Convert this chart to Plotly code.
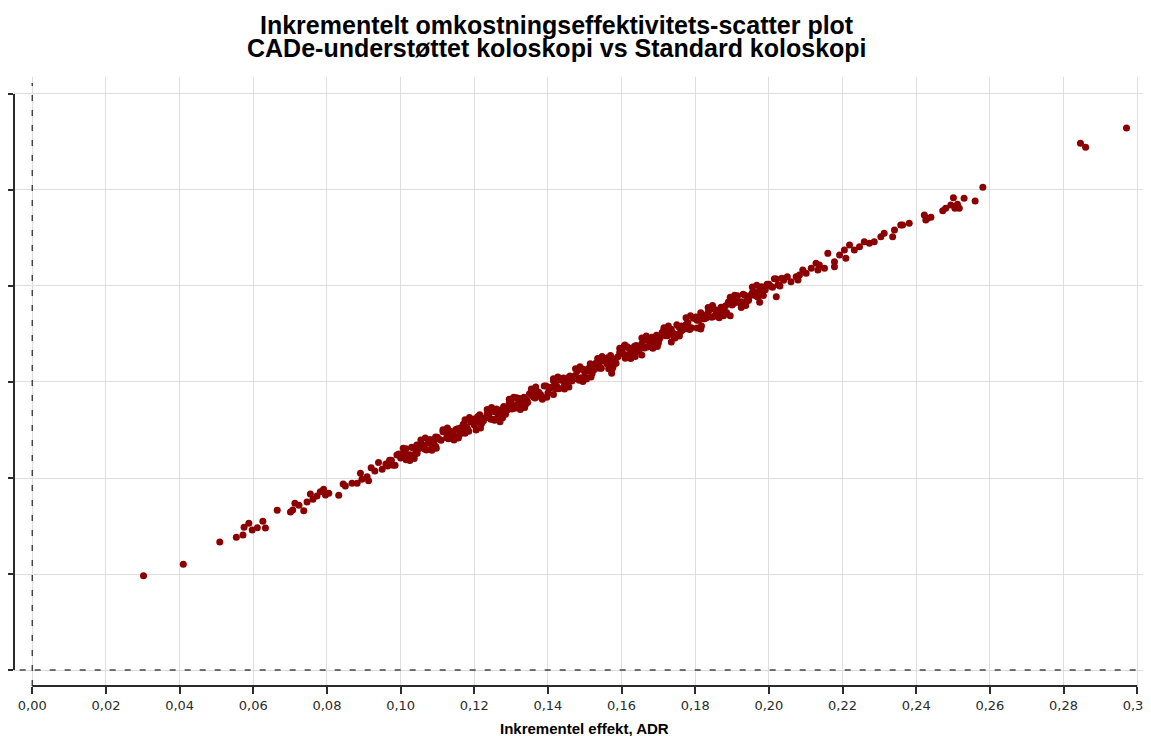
import plotly.graph_objects as go

# ---- Data (incremental effect, incremental cost in tick units) ----
effect_low = [0.0302, 0.0410, 0.0509, 0.0554, 0.0572, 0.0575, 0.0588, 0.0597, 0.0611, 0.0626,
              0.0633, 0.0665, 0.0701, 0.0707, 0.0713, 0.0724, 0.0737, 0.0746, 0.0755, 0.0762,
              0.0773, 0.0782, 0.0791, 0.0796, 0.0805, 0.0832, 0.0844, 0.0850, 0.0868, 0.0882,
              0.0891, 0.0895, 0.0909, 0.0913]
cost_low = [0.982, 1.101, 1.333, 1.382, 1.406, 1.486, 1.528, 1.458, 1.482, 1.549,
            1.479, 1.664, 1.646, 1.667, 1.736, 1.716, 1.659, 1.750, 1.833, 1.778,
            1.813, 1.857, 1.882, 1.823, 1.841, 1.820, 1.938, 1.917, 1.945, 1.945,
            2.049, 1.986, 2.014, 1.972]

effect_band_a = [0.092, 0.093, 0.094, 0.095, 0.096, 0.097, 0.098, 0.099, 0.100, 0.101,
                 0.102, 0.103, 0.104, 0.105, 0.106, 0.107, 0.108, 0.109, 0.110, 0.111,
                 0.112, 0.113, 0.114, 0.115, 0.116, 0.117, 0.118, 0.119, 0.120, 0.121,
                 0.122, 0.123, 0.124, 0.125, 0.126, 0.127, 0.128, 0.129, 0.130, 0.131,
                 0.132, 0.133, 0.134, 0.135, 0.136, 0.137, 0.138, 0.139, 0.140, 0.141,
                 0.142, 0.143, 0.144, 0.145, 0.146, 0.147, 0.148, 0.149, 0.150, 0.151,
                 0.152, 0.153, 0.154, 0.155, 0.156, 0.157, 0.158, 0.159, 0.160, 0.161,
                 0.162, 0.163, 0.164, 0.165, 0.166, 0.167, 0.168, 0.169, 0.170, 0.171,
                 0.172, 0.173, 0.174, 0.175, 0.176, 0.177, 0.178, 0.179, 0.180, 0.181,
                 0.182, 0.183, 0.184, 0.185, 0.186, 0.187, 0.188, 0.189, 0.190, 0.191,
                 0.192, 0.193, 0.194, 0.195, 0.196, 0.197, 0.198, 0.199, 0.200, 0.201,
                 0.202, 0.203, 0.204, 0.205, 0.206]
cost_band_a = [2.106, 2.074, 2.162, 2.090, 2.147, 2.185, 2.133, 2.240, 2.208, 2.266,
               2.233, 2.321, 2.249, 2.307, 2.344, 2.292, 2.400, 2.367, 2.425, 2.393,
               2.480, 2.408, 2.466, 2.504, 2.451, 2.559, 2.527, 2.584, 2.552, 2.640,
               2.567, 2.625, 2.663, 2.611, 2.718, 2.686, 2.744, 2.711, 2.799, 2.727,
               2.784, 2.822, 2.770, 2.878, 2.845, 2.903, 2.871, 2.958, 2.886, 2.944,
               2.981, 2.929, 3.037, 3.005, 3.062, 3.030, 3.118, 3.045, 3.103, 3.141,
               3.088, 3.196, 3.164, 3.222, 3.189, 3.277, 3.205, 3.262, 3.300, 3.248,
               3.355, 3.323, 3.381, 3.349, 3.436, 3.364, 3.422, 3.459, 3.407, 3.515,
               3.482, 3.540, 3.508, 3.596, 3.523, 3.581, 3.619, 3.566, 3.674, 3.642,
               3.699, 3.667, 3.755, 3.683, 3.740, 3.778, 3.726, 3.833, 3.801, 3.859,
               3.826, 3.914, 3.842, 3.900, 3.937, 3.885, 3.993, 3.960, 4.018, 3.986,
               4.073, 4.001, 4.059, 4.097, 4.044]

effect_band_b = [0.0965, 0.0975, 0.0985, 0.0995, 0.1005, 0.1015, 0.1025, 0.1035, 0.1045, 0.1055,
                 0.1065, 0.1075, 0.1085, 0.1095, 0.1105, 0.1115, 0.1125, 0.1135, 0.1145, 0.1155,
                 0.1165, 0.1175, 0.1185, 0.1195, 0.1205, 0.1215, 0.1225, 0.1235, 0.1245, 0.1255,
                 0.1265, 0.1275, 0.1285, 0.1295, 0.1305, 0.1315, 0.1325, 0.1335, 0.1345, 0.1355,
                 0.1365, 0.1375, 0.1385, 0.1395, 0.1405, 0.1415, 0.1425, 0.1435, 0.1445, 0.1455,
                 0.1465, 0.1475, 0.1485, 0.1495, 0.1505, 0.1515, 0.1525, 0.1535, 0.1545, 0.1555,
                 0.1565, 0.1575, 0.1585, 0.1595, 0.1605, 0.1615, 0.1625, 0.1635, 0.1645, 0.1655,
                 0.1665, 0.1675, 0.1685, 0.1695, 0.1705, 0.1715, 0.1725, 0.1735, 0.1745, 0.1755,
                 0.1765, 0.1775, 0.1785, 0.1795, 0.1805, 0.1815, 0.1825, 0.1835, 0.1845, 0.1855,
                 0.1865, 0.1875, 0.1885, 0.1895, 0.1905, 0.1915, 0.1925, 0.1935, 0.1945, 0.1955,
                 0.1965, 0.1975, 0.1985, 0.1995, 0.2005, 0.2015, 0.2025, 0.2035]
cost_band_b = [2.126, 2.184, 2.132, 2.249, 2.227, 2.305, 2.242, 2.310, 2.258, 2.336,
               2.303, 2.361, 2.309, 2.426, 2.404, 2.482, 2.419, 2.487, 2.435, 2.513,
               2.480, 2.538, 2.486, 2.603, 2.581, 2.659, 2.596, 2.664, 2.612, 2.690,
               2.657, 2.715, 2.663, 2.780, 2.758, 2.836, 2.773, 2.841, 2.789, 2.867,
               2.834, 2.892, 2.840, 2.957, 2.935, 3.013, 2.950, 3.018, 2.966, 3.044,
               3.011, 3.069, 3.017, 3.134, 3.112, 3.190, 3.127, 3.195, 3.143, 3.221,
               3.188, 3.246, 3.194, 3.311, 3.289, 3.367, 3.304, 3.372, 3.320, 3.398,
               3.365, 3.423, 3.371, 3.488, 3.466, 3.544, 3.481, 3.549, 3.497, 3.575,
               3.542, 3.600, 3.548, 3.665, 3.643, 3.721, 3.658, 3.726, 3.674, 3.752,
               3.719, 3.777, 3.725, 3.842, 3.820, 3.898, 3.835, 3.903, 3.851, 3.929,
               3.896, 3.954, 3.902, 4.019, 3.997, 4.075, 4.012, 4.080]

effect_band_c = [0.11225, 0.11425, 0.11625, 0.11825, 0.12025, 0.12225, 0.12425, 0.12625, 0.12825, 0.13025,
                 0.13225, 0.13425, 0.13625, 0.13825, 0.14025, 0.14225, 0.14425, 0.14625, 0.14825, 0.15025,
                 0.15225, 0.15425, 0.15625, 0.15825, 0.16025, 0.16225, 0.16425, 0.16625, 0.16825, 0.17025,
                 0.17225, 0.17425, 0.17625, 0.17825, 0.18025, 0.18225, 0.18425, 0.18625, 0.18825]
cost_band_c = [2.494, 2.410, 2.520, 2.506, 2.616, 2.596, 2.707, 2.622, 2.733, 2.718,
               2.828, 2.809, 2.919, 2.835, 2.945, 2.930, 3.041, 3.021, 3.132, 3.047,
               3.157, 3.143, 3.253, 3.234, 3.344, 3.259, 3.370, 3.355, 3.466, 3.446,
               3.556, 3.472, 3.582, 3.568, 3.678, 3.658, 3.769, 3.684, 3.795]

effect_band_d = [0.1015, 0.1055, 0.1095, 0.1135, 0.1175, 0.1215, 0.1255, 0.1295, 0.1335, 0.1375,
                 0.1415, 0.1455, 0.1495, 0.1535, 0.1575, 0.1615, 0.1655, 0.1695, 0.1735, 0.1775,
                 0.1815, 0.1855, 0.1895, 0.1935, 0.1975]
cost_band_d = [2.190, 2.332, 2.331, 2.463, 2.465, 2.601, 2.601, 2.738, 2.737, 2.868,
               2.871, 3.006, 3.006, 3.146, 3.140, 3.285, 3.280, 3.418, 3.417, 3.555,
               3.553, 3.698, 3.689, 3.834, 3.830]

# outer edge of the dense band
effect_band_e = [0.1007, 0.1037, 0.1067, 0.1097, 0.1127, 0.1157, 0.1187, 0.1217, 0.1247, 0.1277,
                 0.1307, 0.1337, 0.1367, 0.1397, 0.1427, 0.1457, 0.1487, 0.1517, 0.1547, 0.1577,
                 0.1607, 0.1637, 0.1667, 0.1697, 0.1727, 0.1757, 0.1787, 0.1817, 0.1847, 0.1877,
                 0.1907, 0.1937, 0.1967,
                 0.1025, 0.1055, 0.1085, 0.1115, 0.1145, 0.1175, 0.1205, 0.1235, 0.1265, 0.1295,
                 0.1325, 0.1355, 0.1385, 0.1415, 0.1445, 0.1475, 0.1505, 0.1535, 0.1565, 0.1595,
                 0.1625, 0.1655, 0.1685, 0.1715, 0.1745, 0.1775, 0.1805, 0.1835, 0.1865, 0.1895,
                 0.1925, 0.1955]
cost_band_e = [2.310, 2.203, 2.416, 2.309, 2.522, 2.416, 2.629, 2.522, 2.735, 2.628,
               2.841, 2.734, 2.947, 2.840, 3.053, 2.947, 3.160, 3.053, 3.266, 3.159,
               3.372, 3.265, 3.478, 3.371, 3.584, 3.478, 3.691, 3.584, 3.797, 3.690,
               3.903, 3.796, 4.009,
               2.183, 2.396, 2.289, 2.502, 2.395, 2.608, 2.501, 2.714, 2.608, 2.821,
               2.714, 2.927, 2.820, 3.033, 2.926, 3.139, 3.032, 3.245, 3.139, 3.352,
               3.245, 3.458, 3.351, 3.564, 3.457, 3.670, 3.563, 3.776, 3.670, 3.883,
               3.776, 3.989]

effect_band_out = [0.1044, 0.1270, 0.1573, 0.1609, 0.2020]
cost_band_out = [2.344, 2.586, 3.090, 3.385, 3.889]

effect_high = [0.2074, 0.2079, 0.2083, 0.2092, 0.2101, 0.2115, 0.2128, 0.2133, 0.2137, 0.2151,
               0.2160, 0.2178, 0.2178, 0.2192, 0.2205, 0.2209, 0.2219, 0.2232, 0.2246, 0.2259,
               0.2273, 0.2286, 0.2304, 0.2313, 0.2336, 0.2341, 0.2358, 0.2363, 0.2381,
               0.2422, 0.2431, 0.2426, 0.2440, 0.2472, 0.2480, 0.2494, 0.2501, 0.2505, 0.2512,
               0.2517, 0.2530, 0.2560, 0.2581, 0.2846, 0.2860, 0.2971]
cost_high = [4.097, 4.063, 4.115, 4.167, 4.132, 4.184, 4.236, 4.167, 4.219, 4.184,
             4.340, 4.253, 4.201, 4.323, 4.375, 4.289, 4.427, 4.375, 4.409, 4.461,
             4.445, 4.461, 4.513, 4.549, 4.513, 4.583, 4.635, 4.635, 4.653,
             4.740, 4.705, 4.688, 4.716, 4.784, 4.809, 4.844, 4.920, 4.809, 4.851,
             4.809, 4.913, 4.885, 5.028, 5.486, 5.444, 5.646]

x_ticks = [0.00, 0.02, 0.04, 0.06, 0.08, 0.10, 0.12, 0.14, 0.16, 0.18, 0.20, 0.22, 0.24, 0.26, 0.28, 0.30]
y_ticks = [0, 1, 2, 3, 4, 5, 6]

title_line1 = "Inkrementelt omkostningseffektivitets-scatter plot"
title_line2 = "CADe-understøttet koloskopi vs Standard koloskopi"
x_title = "Inkrementel effekt, ADR"

effect = (effect_low + effect_band_a + effect_band_b + effect_band_c + effect_band_d
          + effect_band_e + effect_band_out + effect_high)
cost = (cost_low + cost_band_a + cost_band_b + cost_band_c + cost_band_d
        + cost_band_e + cost_band_out + cost_high)
assert len(effect) == len(cost)

AXIS = "#2b2b2b"
GRID = "#dedede"
TITLE_FONT = "Liberation Sans, Arial, sans-serif"

fig = go.Figure()
fig.add_trace(go.Scatter(
    x=effect, y=cost, mode="markers",
    marker=dict(color="#8b0000", size=7, line=dict(width=0)),
    showlegend=False, hoverinfo="x+y",
))

shapes = [
    # reference lines at zero
    dict(type="line", xref="x", yref="paper", x0=0, x1=0, y0=0, y1=0.99,
         line=dict(color="#444444", width=1.5, dash="6px,9px"), layer="above"),
    dict(type="line", xref="paper", yref="y", x0=0.005, x1=1, y0=0, y1=0,
         line=dict(color="#444444", width=1.5, dash="6px,9px"), layer="above"),
    # offset axis lines
    dict(type="line", xref="x", yref="paper", x0=x_ticks[0], x1=x_ticks[-1], y0=0, y1=0,
         line=dict(color=AXIS, width=2)),
    dict(type="line", xref="paper", yref="y", x0=0, x1=0, y0=y_ticks[0], y1=y_ticks[-1],
         line=dict(color=AXIS, width=2)),
]

annotations = [
    dict(text="<b>" + title_line1 + "</b>", xref="paper", yref="paper", x=0.478, y=1,
         xanchor="center", yanchor="middle", yshift=52, showarrow=False,
         font=dict(family=TITLE_FONT, size=25, color="black")),
    dict(text="<b>" + title_line2 + "</b>", xref="paper", yref="paper", x=0.478, y=1,
         xanchor="center", yanchor="middle", yshift=29, showarrow=False,
         font=dict(family=TITLE_FONT, size=25, color="black")),
    dict(text="<b>" + x_title + "</b>", xref="paper", yref="paper", x=0.5026, y=0,
         xanchor="center", yanchor="middle", yshift=-42, showarrow=False,
         font=dict(family=TITLE_FONT, size=15, color="black")),
]

# the page body has an 8px margin, so the figure is sized to fill the rest of the window
fig.update_layout(
    width=1143, height=728, autosize=False,
    margin=dict(l=6, r=1, t=69, b=50, pad=0),
    paper_bgcolor="white", plot_bgcolor="white",
    separators=", ",
    shapes=shapes,
    annotations=annotations,
    xaxis=dict(
        range=[-0.00497, 0.30348], tickvals=x_ticks, tickformat=".2f",
        showgrid=True, gridcolor=GRID, gridwidth=1, zeroline=False, showline=False,
        ticks="outside", ticklen=7, tickwidth=2, tickcolor=AXIS, automargin=False,
        ticklabeloverflow="allow",
        tickfont=dict(family="DejaVu Sans, sans-serif", size=13, color="#2b2b2b"),
    ),
    yaxis=dict(
        range=[-0.1667, 6.177], tickvals=y_ticks, showticklabels=False,
        showgrid=True, gridcolor=GRID, gridwidth=1, zeroline=False, showline=False,
        ticks="outside", ticklen=7, tickwidth=2, tickcolor=AXIS, automargin=False,
    ),
)

fig.write_html("out.html")
